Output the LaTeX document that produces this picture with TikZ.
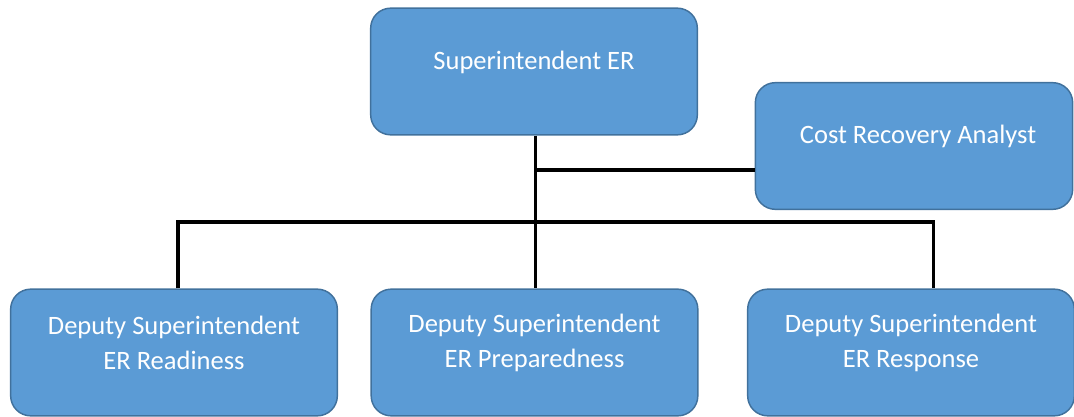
\documentclass[tikz,border=0pt]{standalone}
\usepackage{fontspec}
\setmainfont{Carlito}
\usepackage{tikz}
\usetikzlibrary{positioning,calc}
\definecolor{boxfill}{HTML}{5B9BD5}
\definecolor{boxline}{HTML}{41719C}
\tikzset{
	unit/.style = {
			rectangle,
			rounded corners = 15pt,
			draw            = boxline,
			fill            = boxfill,
			line width      = 1.1pt,
			minimum width   = 245pt,
			minimum height  = 95pt,
			inner sep       = 0pt,
		},
	caption/.style = {
			text      = white,
			align     = center,
			font      = \fontsize{19.9}{26}\selectfont,
			yshift    = 7pt,
		},
	link/.style = {line width=2.4pt, draw=black},
}

\begin{document}
\begin{tikzpicture}[x=0.75pt,y=-0.75pt]
        \useasboundingbox (0,0) rectangle (1074,417);
        \node[unit, label={[caption]center:Superintendent ER}] at (534,71.5) (sup) {};
        \node[unit, minimum width=238pt, label={[caption, xshift=3pt]center:Cost Recovery Analyst}] at (914,146) (cost) {};
        \node[unit, label={[caption]center:{Deputy Superintendent\\ER Readiness}}] at (174,352.5) (readiness) {};
        \node[unit, label={[caption]center:{Deputy Superintendent\\ER Preparedness}}] at (534.5,352.5) (prep) {};
        \node[unit, label={[caption]center:{Deputy Superintendent\\ER Response}}] at (911,352.5) (response) {};
        \coordinate (costjoin) at (535.5,170);
        \coordinate (bus) at (535.5,222);
        \draw[link] (sup.south -| bus) -- (prep.north -| bus);
        \draw[link] (costjoin) -- (costjoin -| cost.west);
        \draw[link] ([xshift=3pt]readiness.north) |- (bus) -| ([xshift=17pt]response.north);
      \end{tikzpicture}
\end{document}
